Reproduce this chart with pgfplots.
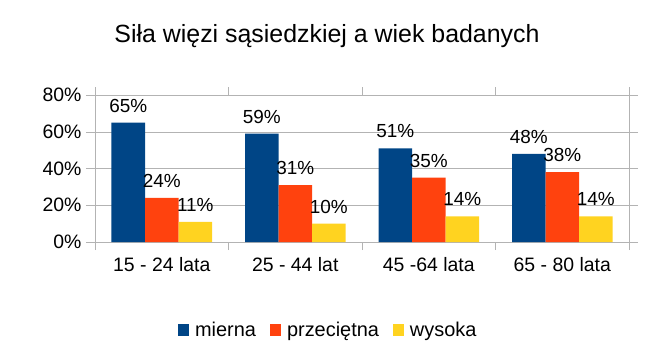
\documentclass[border=0pt]{standalone}
\usepackage{fontspec}
\setmainfont{Liberation Sans}
\usepackage{pgfplots}
\pgfplotsset{compat=1.18}
\definecolor{c1}{HTML}{004586}
\definecolor{c2}{HTML}{FF420E}
\definecolor{c3}{HTML}{FFD320}
\definecolor{gridc}{HTML}{B3B3B3}
\pgfplotsset{sq/.style={legend image code/.code={\fill[##1] (0bp,-5.5bp) rectangle (11bp,6bp);}}}
\begin{document}
\begin{tikzpicture}
\path[use as bounding box] (0bp,0bp) rectangle (661bp,364bp);
\node[font=\fontsize{25}{30}\selectfont] at (327bp,328bp) {Siła więzi sąsiedzkiej a wiek badanych};
\begin{axis}[
 at={(95bp,122bp)}, anchor=south west,
 scale only axis, width=534bp, height=147bp,
 ybar=0pt, bar width=33.5bp,
 xmin=-0.5, xmax=3.5, ymin=0, ymax=80,
 xtick={0,1,2,3},
 xticklabels={15 - 24 lata, 25 - 44 lat, 45 -64 lata, 65 - 80 lata},
 minor xtick={-0.5,0.5,1.5,2.5,3.5},
 ytick={0,20,40,60,80},
 yticklabel={\pgfmathprintnumber{\tick}\%},
 /pgf/number format/assume math mode=true,
 ymajorgrids, major grid style={gridc},
 axis line style={gridc},
 tick style={gridc},
 tick align=outside,
 major tick length=9bp, minor tick length=8bp,
 major x tick style={draw=none},
 ticklabel style={font=\fontsize{19.5}{23}\selectfont},
 xticklabel style={yshift=-3bp},
 yticklabel style={xshift=-1bp},
 nodes near coords={\pgfmathprintnumber{\pgfplotspointmeta}\%},
 every node near coord/.append style={font=\fontsize{19}{22}\selectfont, black, inner sep=0bp, yshift=10bp},
 legend style={at={(0.435,-0.6)}, anchor=center, draw=none, legend columns=3,
   font=\fontsize{20}{24}\selectfont,
   nodes={inner xsep=0bp},
   /tikz/every odd column/.append style={column sep=6bp},
   /tikz/every even column/.append style={column sep=14bp}},
]
\addplot[fill=c1, draw=none, sq] coordinates {(0,65) (1,59) (2,51) (3,48)};
\addplot[fill=c2, draw=none, sq] coordinates {(0,24) (1,31) (2,35) (3,38)};
\addplot[fill=c3, draw=none, sq] coordinates {(0,11) (1,10) (2,14) (3,14)};
\legend{mierna, przeciętna, wysoka}
\end{axis}
\end{tikzpicture}
\end{document}
